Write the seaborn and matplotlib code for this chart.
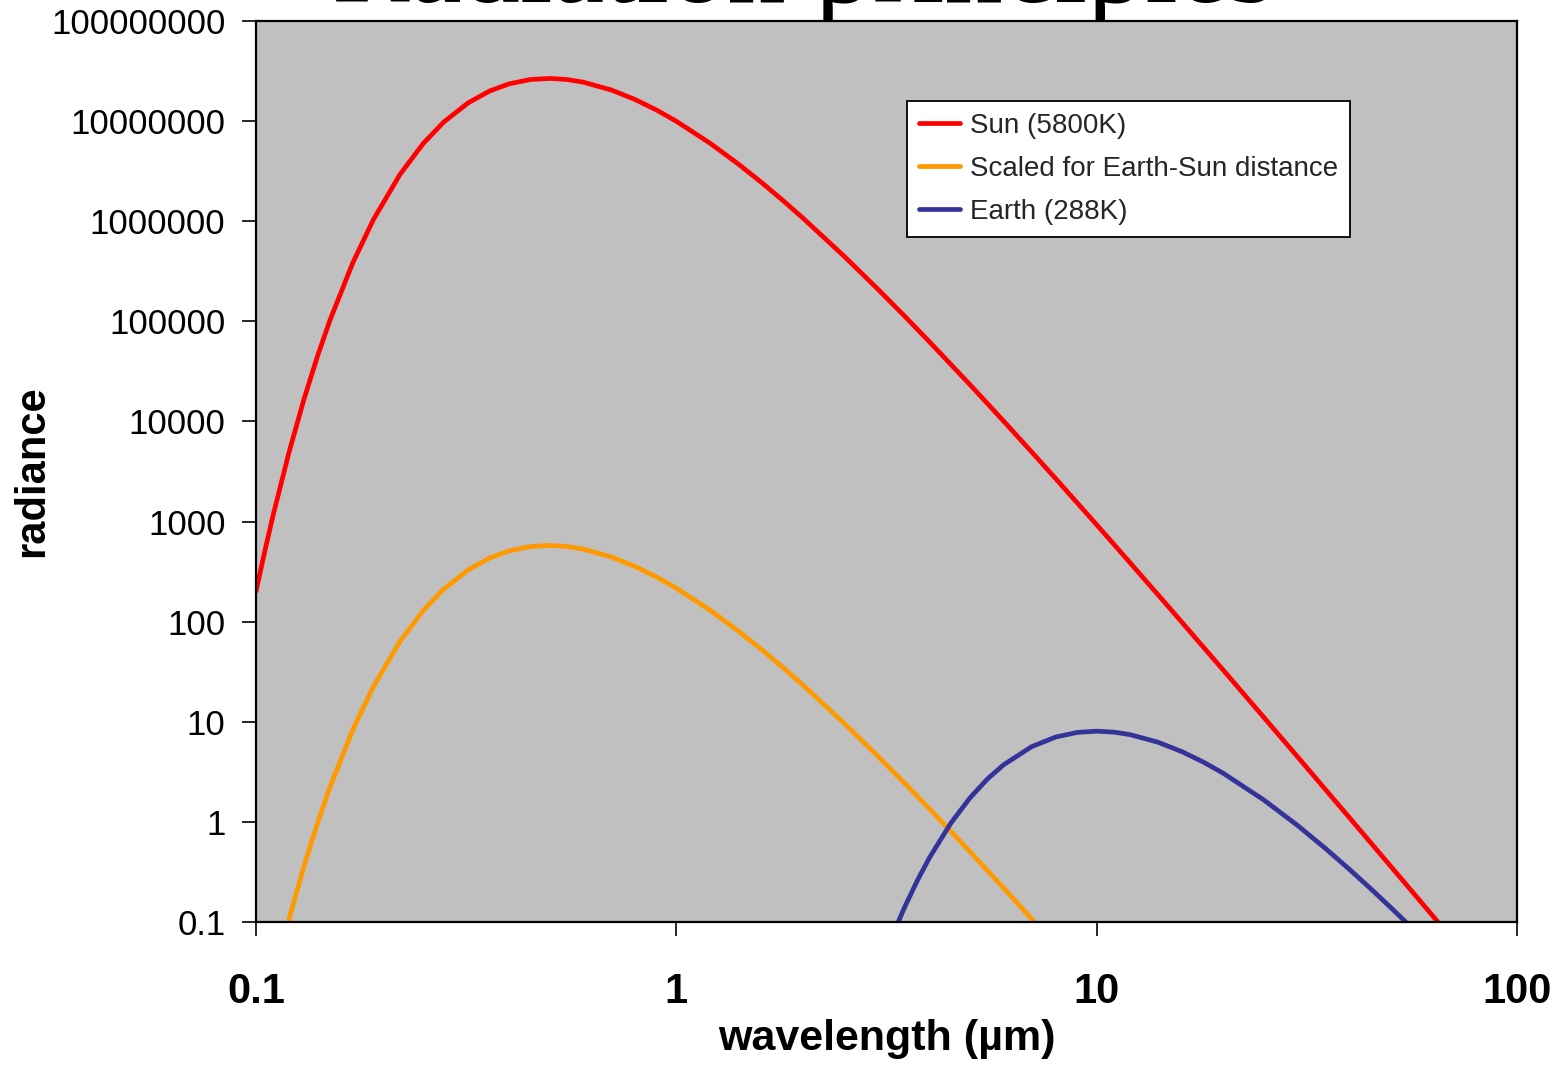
import matplotlib
matplotlib.use("Agg")
import matplotlib.pyplot as plt
import numpy as np
import pandas as pd
import seaborn as sns

# ---------------- data ----------------
sun_wavelength = [0.1, 0.105, 0.11, 0.12, 0.13, 0.14, 0.15, 0.17, 0.19, 0.22, 0.25, 0.28,
                  0.32, 0.36, 0.4, 0.45, 0.5, 0.55, 0.6, 0.7, 0.8, 0.9, 1.0, 1.2, 1.4, 1.6,
                  1.8, 2.0, 2.5, 3.0, 3.5, 4.0, 5, 6, 7, 8, 10, 12, 15, 20, 25, 30, 40, 50,
                  60, 65]
sun_radiance = [200.7, 512, 1188, 5035, 16550, 44660, 1.030e5, 3.857e5, 1.028e6, 2.929e6,
                5.981e6, 9.830e6, 1.526e7, 2.003e7, 2.356e7, 2.605e7, 2.669e7, 2.602e7,
                2.452e7, 2.048e7, 1.636e7, 1.281e7, 9.967e6, 6.056e6, 3.765e6, 2.410e6,
                1.589e6, 1.077e6, 4.521e5, 2.144e5, 1.116e5, 62560, 23210, 10130, 4972,
                2666, 929.3, 389.3, 132.9, 32.88, 11.04, 4.512, 1.093, 0.3627, 0.1470,
                0.0988]

scaled_wavelength = [0.1, 0.105, 0.11, 0.12, 0.13, 0.14, 0.15, 0.17, 0.19, 0.22, 0.25, 0.28,
                     0.32, 0.36, 0.4, 0.45, 0.5, 0.55, 0.6, 0.7, 0.8, 0.9, 1.0, 1.2, 1.4,
                     1.6, 1.8, 2.0, 2.5, 3.0, 3.5, 4.0, 5, 6, 7, 8]
scaled_radiance = [0.00434, 0.01108, 0.02571, 0.1090, 0.3581, 0.9664, 2.229, 8.347, 22.24,
                   63.38, 129.4, 212.7, 330.2, 433.5, 509.9, 563.6, 577.6, 563.0, 530.7,
                   443.2, 354.0, 277.3, 215.7, 131.1, 81.47, 52.15, 34.38, 23.30, 9.784,
                   4.639, 2.415, 1.354, 0.5022, 0.2192, 0.1076, 0.05768]

earth_wavelength = [3.3, 3.5, 3.75, 4, 4.5, 5, 5.5, 6, 7, 8, 9, 10, 11, 12, 14, 16, 18, 20,
                    25, 30, 35, 40, 45, 50, 55, 60]
earth_radiance = [0.0810, 0.1434, 0.2631, 0.4379, 0.9739, 1.744, 2.687, 3.707, 5.635, 7.054,
                  7.834, 8.059, 7.880, 7.446, 6.245, 5.004, 3.928, 3.062, 1.653, 0.9271,
                  0.5441, 0.3336, 0.2127, 0.1403, 0.0954, 0.0666]

series_names = ["Sun (5800K)", "Scaled for Earth-Sun distance", "Earth (288K)"]
series_colors = ["#FF0000", "#FF9900", "#333399"]

x_ticks = [0.1, 1, 10, 100]
x_tick_labels = ["0.1", "1", "10", "100"]
y_ticks = [0.1, 1, 10, 100, 1000, 10000, 100000, 1000000, 10000000, 100000000]
y_tick_labels = ["0.1", "1", "10", "100", "1000", "10000", "100000", "1000000",
                 "10000000", "100000000"]

title_text = "Radiation principles"
x_label = "wavelength (µm)"
y_label = "radiance"

# ---------------- build long table ----------------
df = pd.concat([
    pd.DataFrame({"wavelength": sun_wavelength, "radiance": sun_radiance,
                  "series": series_names[0]}),
    pd.DataFrame({"wavelength": scaled_wavelength, "radiance": scaled_radiance,
                  "series": series_names[1]}),
    pd.DataFrame({"wavelength": earth_wavelength, "radiance": earth_radiance,
                  "series": series_names[2]}),
], ignore_index=True)

# ---------------- style ----------------
sns.set_theme(style="ticks")
plt.rcParams["font.family"] = ["Liberation Sans", "DejaVu Sans"]

W, H = 1566, 1067
fig = plt.figure(figsize=(W / 100, H / 100), dpi=100)
fig.patch.set_facecolor("white")

ax_left, ax_right, ax_top, ax_bottom = 256, 1517, 21, 922
ax = fig.add_axes([ax_left / W, 1 - ax_bottom / H, (ax_right - ax_left) / W,
                   (ax_bottom - ax_top) / H])
ax.set_facecolor("#C0C0C0")
ax.set_xscale("log")
ax.set_yscale("log")

sns.lineplot(data=df, x="wavelength", y="radiance", hue="series",
             hue_order=series_names, palette=series_colors, linewidth=3.4,
             estimator=None, errorbar=None, ax=ax)

ax.set_xlim(0.1, 100)
ax.set_ylim(0.1, 1e8)

ax.xaxis.set_major_locator(matplotlib.ticker.FixedLocator(x_ticks))
ax.xaxis.set_major_formatter(matplotlib.ticker.FixedFormatter(x_tick_labels))
ax.xaxis.set_minor_locator(matplotlib.ticker.NullLocator())
ax.yaxis.set_major_locator(matplotlib.ticker.FixedLocator(y_ticks))
ax.yaxis.set_major_formatter(matplotlib.ticker.FixedFormatter(y_tick_labels))
ax.yaxis.set_minor_locator(matplotlib.ticker.NullLocator())

ax.tick_params(axis="x", direction="out", length=10, width=1.2, color="black",
               pad=26, labelsize=30, labelcolor="black")
ax.tick_params(axis="y", direction="out", length=10, width=1.2, color="black",
               pad=12, labelsize=25, labelcolor="black")
for lab in ax.get_xticklabels():
    lab.set_fontweight("bold")

for sp in ax.spines.values():
    sp.set_color("black")
    sp.set_linewidth(1.6)
    sp.set_visible(True)
ax.grid(False)

ax.set_xlabel(x_label, fontsize=31, fontweight="bold", color="black")
ax.set_ylabel(y_label, fontsize=30, fontweight="bold", color="black")
ax.xaxis.set_label_coords(0.5, -0.1077)
ax.yaxis.set_label_coords(-0.162, 0.5)

handles, labels = ax.get_legend_handles_labels()
leg = ax.legend(handles, labels, loc="upper left",
                bbox_to_anchor=((907 - ax_left) / (ax_right - ax_left),
                                (ax_bottom - 101) / (ax_bottom - ax_top)),
                borderaxespad=0, fontsize=20, frameon=True, fancybox=False,
                framealpha=1, edgecolor="black", facecolor="white",
                handlelength=1.5, handletextpad=0.35, labelspacing=0.62,
                borderpad=0.42, title=None)
leg.get_frame().set_linewidth(1.3)
for ln in leg.get_lines():
    ln.set_linewidth(3.4)

# Title, partly hidden behind the plot area as in the original
fig.text(332 / W, 1 - 2 / H, title_text, fontfamily=["Liberation Serif", "DejaVu Serif"],
         fontsize=84, ha="left", va="baseline", color="black", zorder=-1)

fig.savefig("out.png", dpi=100, facecolor="white")
